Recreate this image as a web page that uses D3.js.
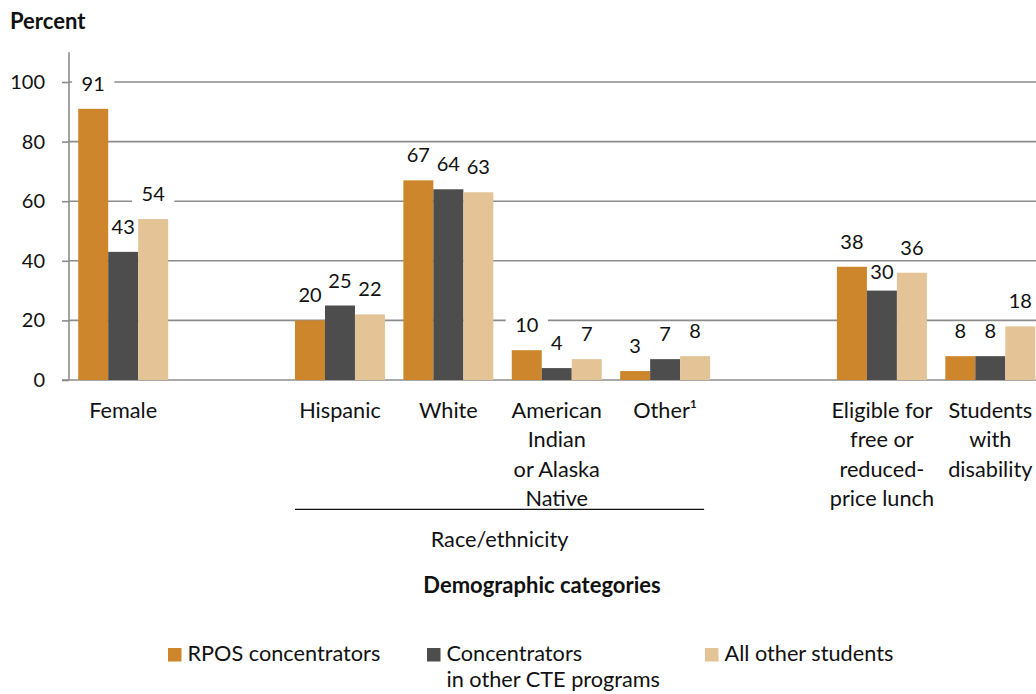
<!DOCTYPE html>
<html>
<head>
<meta charset="utf-8">
<script src="https://cdn.jsdelivr.net/npm/d3@7"></script>
<style>
  body { margin: 0; background: #fff; }
  svg { display: block; }
  text { font-family: Lato, "Open Sans", sans-serif; fill: #111; }
</style>
</head>
<body>
<svg id="chart" width="1036" height="694"></svg>
<script>
// ---- data ----
const categories = [
  "Female",
  "Hispanic",
  "White",
  "American Indian or Alaska Native",
  "Other¹",
  "Eligible for free or reduced-price lunch",
  "Students with disability"
];
const categoryLines = [
  ["Female"],
  ["Hispanic"],
  ["White"],
  ["American", "Indian", "or Alaska", "Native"],
  ["Other¹"],
  ["Eligible for", "free or", "reduced-", "price lunch"],
  ["Students", "with", "disability"]
];
// Empty slots separate the three groups of categories
const slots = ["Female", "gap-a", "Hispanic", "White", "American Indian or Alaska Native", "Other¹", "gap-b",
               "Eligible for free or reduced-price lunch", "Students with disability"];
const raceCategories = ["Hispanic", "White", "American Indian or Alaska Native", "Other¹"];

const rposValues      = [91, 20, 67, 10, 3, 38, 8];
const otherCteValues  = [43, 25, 64, 4, 7, 30, 8];
const allOtherValues  = [54, 22, 63, 7, 8, 36, 18];

const seriesNames = [["RPOS concentrators"], ["Concentrators", "in other CTE programs"], ["All other students"]];
const seriesColors = ["#cd862b", "#4d4d4d", "#e4c396"];
const yTicks = [0, 20, 40, 60, 80, 100];

// ---- layout ----
const svg = d3.select("#chart");
const plotLeft = 69, plotRight = 1044.5, plotBottom = 380, plotTop = 52.2;
const gridColor = "#8c8c8c";
const numSize = 20;     // tick and value labels
const textSize = 21.7;  // category and legend labels
const boldSize = 22;

const x = d3.scaleBand().domain(slots).range([plotLeft, plotRight]).paddingInner(0).paddingOuter(0);
const groupInset = x.bandwidth() * 0.085;
const xSub = d3.scaleBand().domain([0, 1, 2]).range([groupInset, x.bandwidth() - groupInset]);
const y = d3.scaleLinear().domain([0, 110]).range([plotBottom, plotTop]);

const series = [rposValues, otherCteValues, allOtherValues];
const points = [];
categories.forEach((c, i) => {
  series.forEach((vals, s) => points.push({ cat: c, s, v: vals[i] }));
});

// gridlines
const gridG = svg.append("g");
gridG.selectAll("line").data(yTicks).join("line")
  .attr("x1", d => d === 0 ? plotLeft - 7 : plotLeft)
  .attr("x2", 1036)
  .attr("y1", d => y(d)).attr("y2", d => y(d))
  .attr("stroke", gridColor).attr("stroke-width", 1.6);

// y axis with ticks pointing left
const yAxis = d3.axisLeft(y).tickValues(yTicks).tickSize(7).tickPadding(17).tickFormat(d3.format("d"));
const axG = svg.append("g").attr("transform", `translate(${plotLeft},0)`).call(yAxis);
axG.select(".domain").attr("stroke", gridColor).attr("stroke-width", 1.6)
  .attr("d", `M0,${y(110)}V${y(0)}`);
axG.selectAll(".tick line").attr("stroke", gridColor).attr("stroke-width", 1.6);
axG.selectAll(".tick text").attr("font-size", numSize).attr("font-family", "Lato, sans-serif").attr("fill", "#111");

// label placement: above bar, with a white box that breaks the gridlines
const labelNudge = { "Eligible for free or reduced-price lunch|1": 6 };
const labelY = d => y(d.v) - 18 + (labelNudge[d.cat + "|" + d.s] || 0);
const labelX = d => x(d.cat) + xSub(d.s) + xSub.bandwidth() / 2;

const boxG = svg.append("g");
const barG = svg.append("g");
const textG = svg.append("g");

const labels = textG.selectAll("text").data(points).join("text")
  .attr("x", labelX).attr("y", labelY)
  .attr("text-anchor", "middle").attr("font-size", numSize)
  .text(d => d.v);

labels.each(function (d) {
  const w = this.getComputedTextLength();
  boxG.append("rect")
    .attr("x", labelX(d) - w / 2 - 9.5).attr("width", w + 19)
    .attr("y", labelY(d) - 16).attr("height", 20)
    .attr("fill", "#fff");
});

barG.selectAll("rect").data(points).join("rect")
  .attr("x", d => x(d.cat) + xSub(d.s))
  .attr("width", xSub.bandwidth())
  .attr("y", d => y(d.v))
  .attr("height", d => y(0) - y(d.v))
  .attr("fill", d => seriesColors[d.s]);

// category labels
const catG = svg.append("g");
categories.forEach((c, i) => {
  const cx = x(c) + x.bandwidth() / 2;
  const t = catG.append("text")
    .attr("x", cx).attr("y", 418)
    .attr("text-anchor", "middle").attr("font-size", textSize);
  categoryLines[i].forEach((ln, k) => {
    t.append("tspan").attr("x", cx).attr("dy", k === 0 ? 0 : 29.4).text(ln);
  });
});

// race/ethnicity bracket
const raceLeft = x(raceCategories[0]) + xSub(0);
const raceRight = x(raceCategories[raceCategories.length - 1]) + xSub(2) + xSub.bandwidth() - 6;
svg.append("line")
  .attr("x1", raceLeft).attr("x2", raceRight).attr("y1", 509.3).attr("y2", 509.3)
  .attr("stroke", "#111").attr("stroke-width", 1.3);
svg.append("text")
  .attr("x", (raceLeft + raceRight) / 2).attr("y", 547)
  .attr("text-anchor", "middle").attr("font-size", textSize)
  .text("Race/ethnicity");

// titles
svg.append("text").attr("x", 10).attr("y", 29)
  .attr("font-size", boldSize).attr("font-weight", "bold").text("Percent");
svg.append("text").attr("x", 542).attr("y", 593)
  .attr("text-anchor", "middle").attr("font-size", boldSize).attr("font-weight", "bold")
  .text("Demographic categories");

// legend
const legendX = [168, 427, 705];
const legG = svg.append("g");
seriesNames.forEach((lines, s) => {
  legG.append("rect").attr("x", legendX[s]).attr("y", 648)
    .attr("width", 13.5).attr("height", 13.5).attr("fill", seriesColors[s]);
  const t = legG.append("text").attr("x", legendX[s] + 19.5).attr("y", 661).attr("font-size", textSize);
  lines.forEach((ln, k) => {
    t.append("tspan").attr("x", legendX[s] + 19.5).attr("dy", k === 0 ? 0 : 26).text(ln);
  });
});
</script>
</body>
</html>
